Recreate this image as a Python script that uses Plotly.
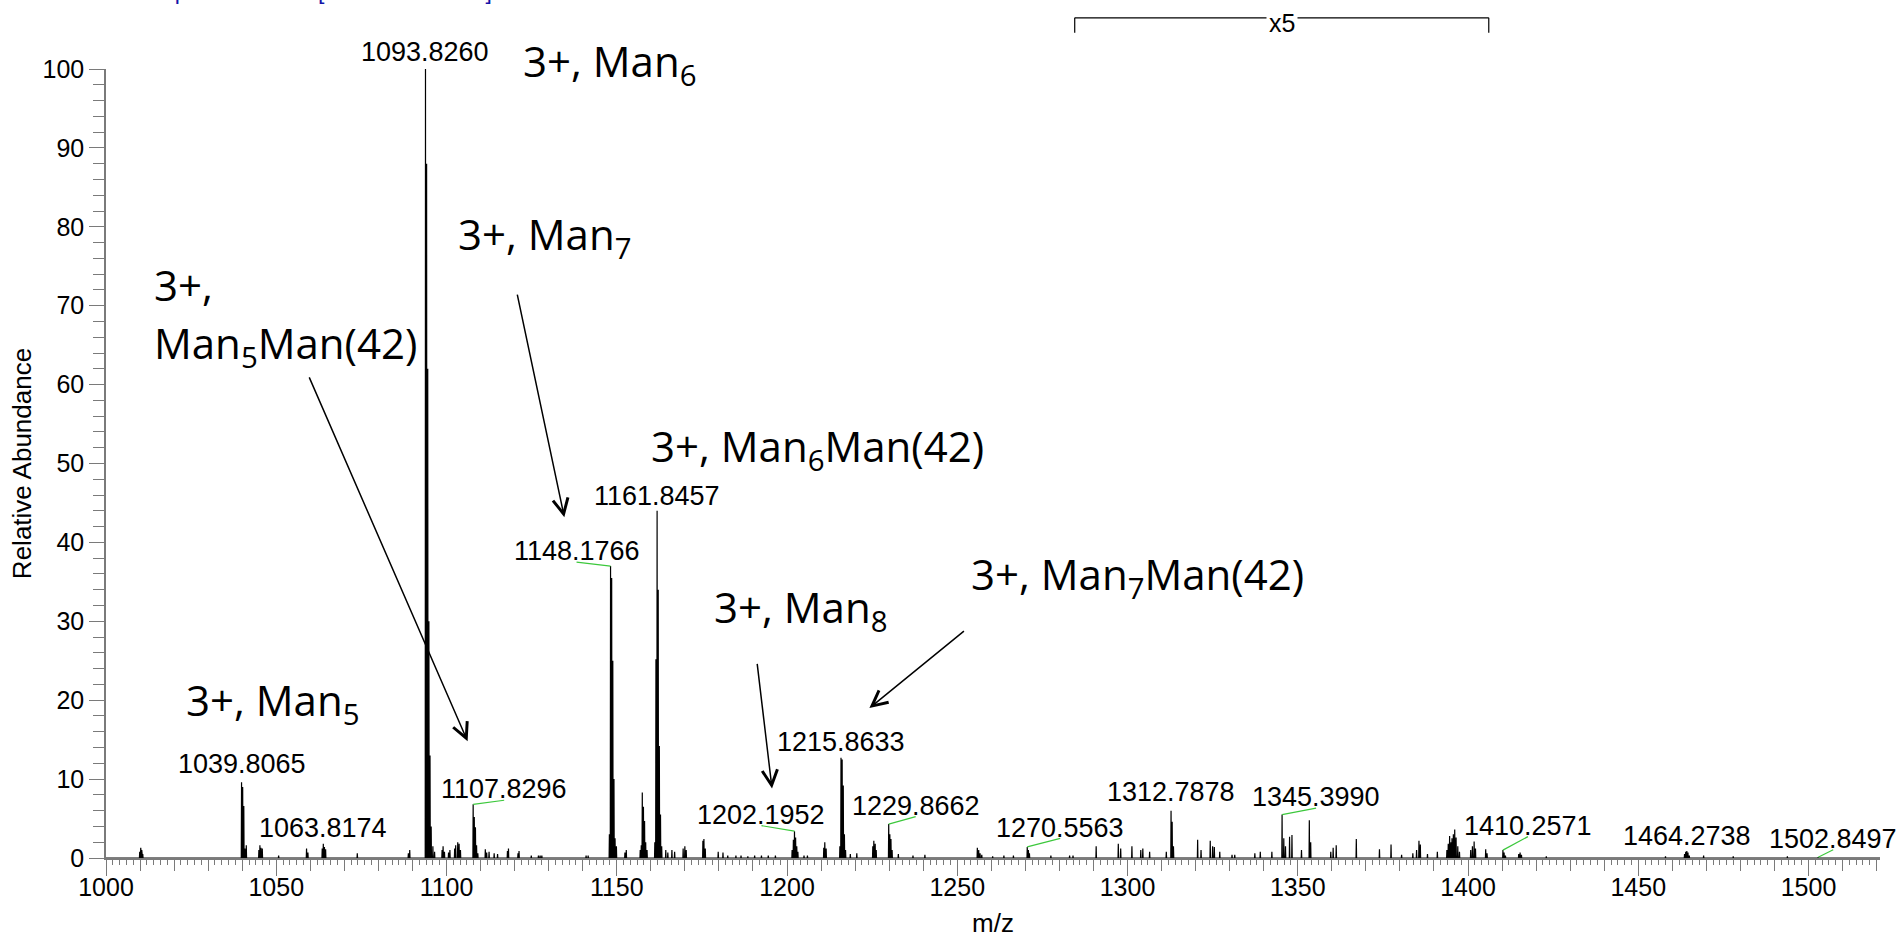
import plotly.graph_objects as go

# ---------------- data ----------------
X_MIN, X_MAX = 1000, 1521
Y_MIN, Y_MAX = 0, 100

peak_mz = [
    1009.9, 1010.2, 1010.5, 1010.8,
    1039.81, 1040.14, 1040.47, 1040.8, 1041.2,
    1044.9, 1045.2, 1045.5, 1045.9, 1050.7,
    1058.9, 1059.3, 1063.5, 1063.82, 1064.15, 1064.5, 1073.8,
    1088.8, 1089.2,
    1093.83, 1094.16, 1094.49, 1094.83, 1095.16, 1095.5,
    1096.0, 1096.5, 1098.7, 1099.0, 1099.4, 1100.6, 1101.0, 1102.4, 1102.7, 1103.3, 1103.7, 1104.1,
    1107.83, 1108.16, 1108.5, 1108.83, 1109.2,
    1111.4, 1111.8, 1112.5, 1114.0, 1115.0, 1117.9, 1118.2, 1121.0, 1121.3,
    1124.9, 1127.0, 1127.5, 1128.0, 1141.0, 1141.6,
    1147.84, 1148.18, 1148.51, 1148.84, 1149.18, 1149.5, 1149.9,
    1152.4, 1152.8, 1156.9, 1157.2, 1157.5, 1157.84, 1158.17, 1158.5, 1158.9,
    1161.18, 1161.51, 1161.85, 1162.18, 1162.51, 1162.85, 1163.2,
    1164.4, 1165.0, 1166.2, 1167.0, 1169.5, 1170.0, 1170.4,
    1175.3, 1175.6, 1176.0, 1179.8, 1181.2, 1182.6, 1185.0, 1186.5, 1188.5, 1190.5, 1192.5, 1194.5, 1196.6,
    1201.5, 1201.87, 1202.2, 1202.53, 1202.87, 1203.2, 1205.0, 1206.0,
    1210.8, 1211.1, 1211.5,
    1215.53, 1215.86, 1216.2, 1216.53, 1216.86, 1217.2, 1218.6, 1220.5,
    1225.2, 1225.5, 1225.9, 1226.2,
    1229.87, 1230.2, 1230.53, 1230.87, 1232.7, 1237.0, 1240.5,
    1255.9, 1256.3, 1256.7, 1257.2, 1260.4, 1263.7, 1266.5,
    1270.56, 1270.9, 1271.2, 1277.5, 1283.0, 1284.0,
    1290.8, 1297.3, 1298.0, 1301.3, 1303.9, 1304.5, 1306.5, 1311.4,
    1312.79, 1313.12, 1313.5, 1320.6, 1321.6, 1324.3, 1325.0, 1325.5, 1327.1, 1330.7, 1331.5,
    1337.4, 1339.0, 1342.4, 1345.4, 1345.9, 1346.4, 1347.6, 1348.3, 1351.1, 1353.4, 1353.8,
    1359.7, 1360.4, 1361.3, 1367.2, 1374.0, 1377.4, 1380.5,
    1383.8, 1384.9, 1385.6, 1386.0, 1388.1, 1391.0,
    1393.8, 1394.2, 1394.6, 1395.0, 1395.3, 1395.7, 1396.1, 1396.5, 1397.0, 1397.5,
    1400.8, 1401.3, 1401.8, 1402.2, 1405.2, 1405.6,
    1410.26, 1410.6, 1411.0, 1414.9, 1415.3, 1415.7, 1423.0,
    1458.0, 1463.6, 1463.94, 1464.27, 1464.6, 1465.0, 1469.2, 1477.9, 1493.8, 1502.85,
]
peak_int = [
    0.8, 1.3, 1.0, 0.5,
    9.6, 9.0, 6.6, 1.2, 1.6,
    1.0, 1.6, 1.3, 1.2, 0.3,
    1.2, 0.7, 1.2, 1.8, 1.4, 1.1, 0.6,
    0.6, 1.0,
    100.0, 88.0, 62.0, 30.0, 13.0, 4.0,
    1.5, 0.8, 1.0, 1.5, 0.8, 0.7, 1.0, 1.2, 1.6, 2.0, 1.8, 1.0,
    6.8, 5.2, 3.9, 1.6, 0.6,
    1.1, 0.7, 0.8, 0.6, 0.5, 0.9, 1.2, 0.6, 0.9,
    0.3, 0.3, 0.3, 0.3, 0.3, 0.3,
    3.0, 37.0, 35.5, 25.0, 10.0, 2.5, 1.5,
    0.7, 1.0, 1.0, 1.6, 8.3, 6.5, 4.7, 2.0, 1.0,
    2.0, 25.2, 44.0, 34.0, 14.2, 5.5, 1.5,
    1.0, 0.7, 1.0, 0.8, 1.2, 1.5, 1.0,
    2.2, 2.4, 1.2, 0.8, 0.7, 0.3, 0.3, 0.3, 0.2, 0.3, 0.3, 0.3, 0.3,
    1.0, 2.3, 3.4, 2.6, 1.5, 0.8, 0.3, 0.3,
    1.3, 2.0, 1.2,
    1.5, 12.7, 12.5, 9.2, 3.0, 1.0, 0.5, 0.6,
    1.5, 2.2, 1.8, 1.0,
    4.3, 3.0, 2.4, 1.0, 0.5, 0.3, 0.4,
    1.3, 1.0, 0.6, 0.4, 0.2, 0.3, 0.3,
    1.4, 1.0, 0.6, 0.3, 0.3, 0.3,
    1.5, 1.8, 1.2, 1.5, 1.0, 1.2, 0.8, 0.8,
    6.0, 4.6, 1.5, 2.3, 1.0, 2.2, 1.5, 1.4, 0.8, 0.4, 0.4,
    0.6, 0.8, 0.8, 5.5, 2.5, 1.5, 2.7, 2.9, 1.0, 4.8, 2.0,
    0.8, 1.3, 1.6, 2.4, 1.1, 1.7, 0.4,
    0.6, 1.0, 2.2, 1.7, 0.5, 0.8,
    1.0, 1.8, 2.8, 2.0, 2.5, 3.0, 3.6, 2.6, 1.5, 0.8,
    1.0, 1.5, 2.1, 1.2, 1.1, 0.6,
    1.0, 0.7, 0.3, 0.5, 0.7, 0.4, 0.2,
    0.2, 0.5, 0.8, 0.9, 0.7, 0.3, 0.3, 0.2, 0.2, 0.1,
]

label_mz = [1039.8065, 1063.8174, 1093.8260, 1107.8296, 1148.1766, 1161.8457,
            1202.1952, 1215.8633, 1229.8662, 1270.5563, 1312.7878, 1345.3990,
            1410.2571, 1464.2738, 1502.8497]

glycan_text = ["3+, Man<sub>6</sub>", "3+, Man<sub>7</sub>", "3+,", "Man<sub>5</sub>Man(42)",
               "3+, Man<sub>6</sub>Man(42)", "3+, Man<sub>7</sub>Man(42)",
               "3+, Man<sub>8</sub>", "3+, Man<sub>5</sub>"]

x_ticks = list(range(1000, 1501, 50))
y_ticks = list(range(0, 101, 10))
zoom_range = [1284.5, 1406.1]
zoom_text = "x5"
header_text = "FTMS + p ESI Full ms [300.00-2000.00]"

# ---------------- placement / style ----------------
W, H = 1898, 938
M_L, M_R, M_T, M_B = 106, 18, 69, 80
PX_X = (W - M_L - M_R) / (X_MAX - X_MIN)   # pixels per m/z unit
PX_Y = (H - M_T - M_B) / (Y_MAX - Y_MIN)   # pixels per % unit

# peak labels: horizontal offset (px), gap above peak (px), green leader line
label_dx = [0, 0, 0, 31, -34, 0, -33, 0, 27, 33, 0, 34, 25, 0, 15]
label_gap = [8.5, 7, 8, 5.6, 5.5, 6, 7, 7, 9, 10, 9, 8, 15, 6, 9]
label_green = [False, False, False, True, True, False, True, False, True, True,
               False, True, True, False, True]

# glycan labels: top-left position (m/z, relative abundance)
glycan_pos = [(1121.8, 105.0), (1102.9, 83.0), (1013.6, 76.5), (1013.6, 69.2),
              (1159.5, 56.2), (1253.5, 39.9), (1178.0, 35.8), (1022.8, 24.0)]
# arrows: (tail m/z, tail abundance, head m/z, head abundance)
arrows = [(1059.5, 61.1, 1106.2, 14.8), (1120.7, 71.6, 1134.6, 43.2),
          (1191.2, 24.8, 1195.6, 8.8), (1252.4, 28.9, 1224.2, 19.0)]

HW = 0.08
AX_COL = "#7a7a7a"
LBL_SIZE = 27
LBL_FONT = dict(family="Liberation Sans, Arial, sans-serif", size=LBL_SIZE, color="black")
TICK_FONT = dict(family="Liberation Sans, Arial, sans-serif", size=25, color="black")
TITLE_FONT = dict(family="Liberation Sans, Arial, sans-serif", size=26, color="black")
BIG_FONT = dict(family="Open Sans, sans-serif", size=42, color="black")

# ---------------- build spectrum ----------------
xs, ys = [X_MIN], [0]
for m, h in sorted(zip(peak_mz, peak_int)):
    xs += [m - HW, m, m + HW]
    ys += [0, h, 0]
xs.append(X_MAX)
ys.append(0)


def nearest_int(m):
    i = min(range(len(peak_mz)), key=lambda k: abs(peak_mz[k] - m))
    return peak_int[i]


fig = go.Figure()
fig.add_trace(go.Scatter(x=xs, y=ys, mode="lines", line=dict(color="black", width=1.2),
                         hoverinfo="skip", showlegend=False))
# invisible traces so the overlay tick axes are drawn
fig.add_trace(go.Scatter(x=[X_MIN], y=[0], xaxis="x2", mode="markers",
                         marker=dict(opacity=0), hoverinfo="skip", showlegend=False))
fig.add_trace(go.Scatter(x=[X_MIN], y=[0], xaxis="x3", mode="markers",
                         marker=dict(opacity=0), hoverinfo="skip", showlegend=False))

# green leader lines
gx, gy = [], []
for m, dx, gap, grn in zip(label_mz, label_dx, label_gap, label_green):
    if grn:
        h = nearest_int(m)
        gx += [m, m + dx / PX_X, None]
        gy += [h, h + (gap - 1.5) / PX_Y, None]
fig.add_trace(go.Scatter(x=gx, y=gy, mode="lines", line=dict(color="#3cc83c", width=1.2),
                         hoverinfo="skip", showlegend=False, cliponaxis=False))

annotations = []
for m, dx, gap in zip(label_mz, label_dx, label_gap):
    h = nearest_int(m)
    annotations.append(dict(x=m, y=h, xref="x", yref="y", text=f"{m:.4f}", showarrow=False,
                            xanchor="center", yanchor="bottom", xshift=dx,
                            yshift=gap - (0.212 * LBL_SIZE + 2), font=LBL_FONT))

for txt, (px, py) in zip(glycan_text, glycan_pos):
    annotations.append(dict(x=px, y=py / 100.0, xref="x", yref="paper", text=txt, showarrow=False,
                            xanchor="left", yanchor="top", font=BIG_FONT))

for tx, ty, hx, hy in arrows:
    annotations.append(dict(x=hx, y=hy, ax=tx, ay=ty, xref="x", yref="y", axref="x", ayref="y",
                            text="", showarrow=True, arrowhead=5, arrowsize=2.0, arrowwidth=1.5,
                            arrowcolor="black"))

# x5 bracket label
annotations.append(dict(x=sum(zoom_range) / 2, y=1.0589, xref="x", yref="paper", text=zoom_text,
                        showarrow=False, xanchor="center", yanchor="middle", bgcolor="white",
                        borderpad=2, font=dict(family="Liberation Sans, Arial", size=25, color="black")))
# cut-off header (only the lower edge of the line is visible in the reference)
annotations.append(dict(x=0.2187, y=1.0, xref="paper", yref="paper", text=header_text, showarrow=False,
                        xanchor="right", yanchor="bottom", yshift=63,
                        font=dict(family="Liberation Sans, Arial", size=23, color="#1414a8")))

shapes = [
    dict(type="line", xref="x", yref="paper", x0=zoom_range[0], x1=zoom_range[1], y0=1.0648, y1=1.0648,
         line=dict(color="black", width=1.2)),
    dict(type="line", xref="x", yref="paper", x0=zoom_range[0], x1=zoom_range[0], y0=1.0648, y1=1.0458,
         line=dict(color="black", width=1.2)),
    dict(type="line", xref="x", yref="paper", x0=zoom_range[1], x1=zoom_range[1], y0=1.0648, y1=1.0458,
         line=dict(color="black", width=1.2)),
]

fig.update_layout(
    width=W, height=H,
    margin=dict(l=M_L, r=M_R, t=M_T, b=M_B, autoexpand=False),
    paper_bgcolor="white", plot_bgcolor="white",
    showlegend=False,
    annotations=annotations,
    shapes=shapes,
    xaxis=dict(range=[X_MIN, X_MAX], tickmode="array", tickvals=x_ticks,
               ticktext=[str(v) for v in x_ticks], ticks="", ticklabelstandoff=6,
               showline=True, linecolor=AX_COL, linewidth=1.5,
               showgrid=False, zeroline=False, tickfont=TICK_FONT,
               title=dict(text="m/z", font=TITLE_FONT, standoff=15)),
    xaxis2=dict(range=[X_MIN, X_MAX], overlaying="x", anchor="y", side="bottom",
                tickmode="linear", tick0=X_MIN, dtick=10, ticks="outside", ticklen=12,
                tickwidth=1, tickcolor=AX_COL, showticklabels=False, showline=False,
                showgrid=False, zeroline=False,
                minor=dict(tick0=X_MIN, dtick=2, ticks="outside", ticklen=6, tickwidth=1,
                           tickcolor=AX_COL, showgrid=False)),
    xaxis3=dict(range=[X_MIN, X_MAX], overlaying="x", anchor="y", side="bottom",
                tickmode="array", tickvals=x_ticks, ticks="outside", ticklen=17,
                tickwidth=1, tickcolor=AX_COL, showticklabels=False, showline=False,
                showgrid=False, zeroline=False),
    yaxis=dict(range=[Y_MIN, Y_MAX], tickmode="array", tickvals=y_ticks,
               ticks="outside", ticklen=15, tickwidth=1, tickcolor=AX_COL,
               showline=True, linecolor=AX_COL, linewidth=1.5, showgrid=False, zeroline=False,
               tickfont=TICK_FONT,
               minor=dict(dtick=2, ticks="outside", ticklen=11, tickwidth=1, tickcolor=AX_COL,
                          showgrid=False),
               title=dict(text="Relative Abundance", font=TITLE_FONT, standoff=3)),
)

fig.write_html("out.html")
